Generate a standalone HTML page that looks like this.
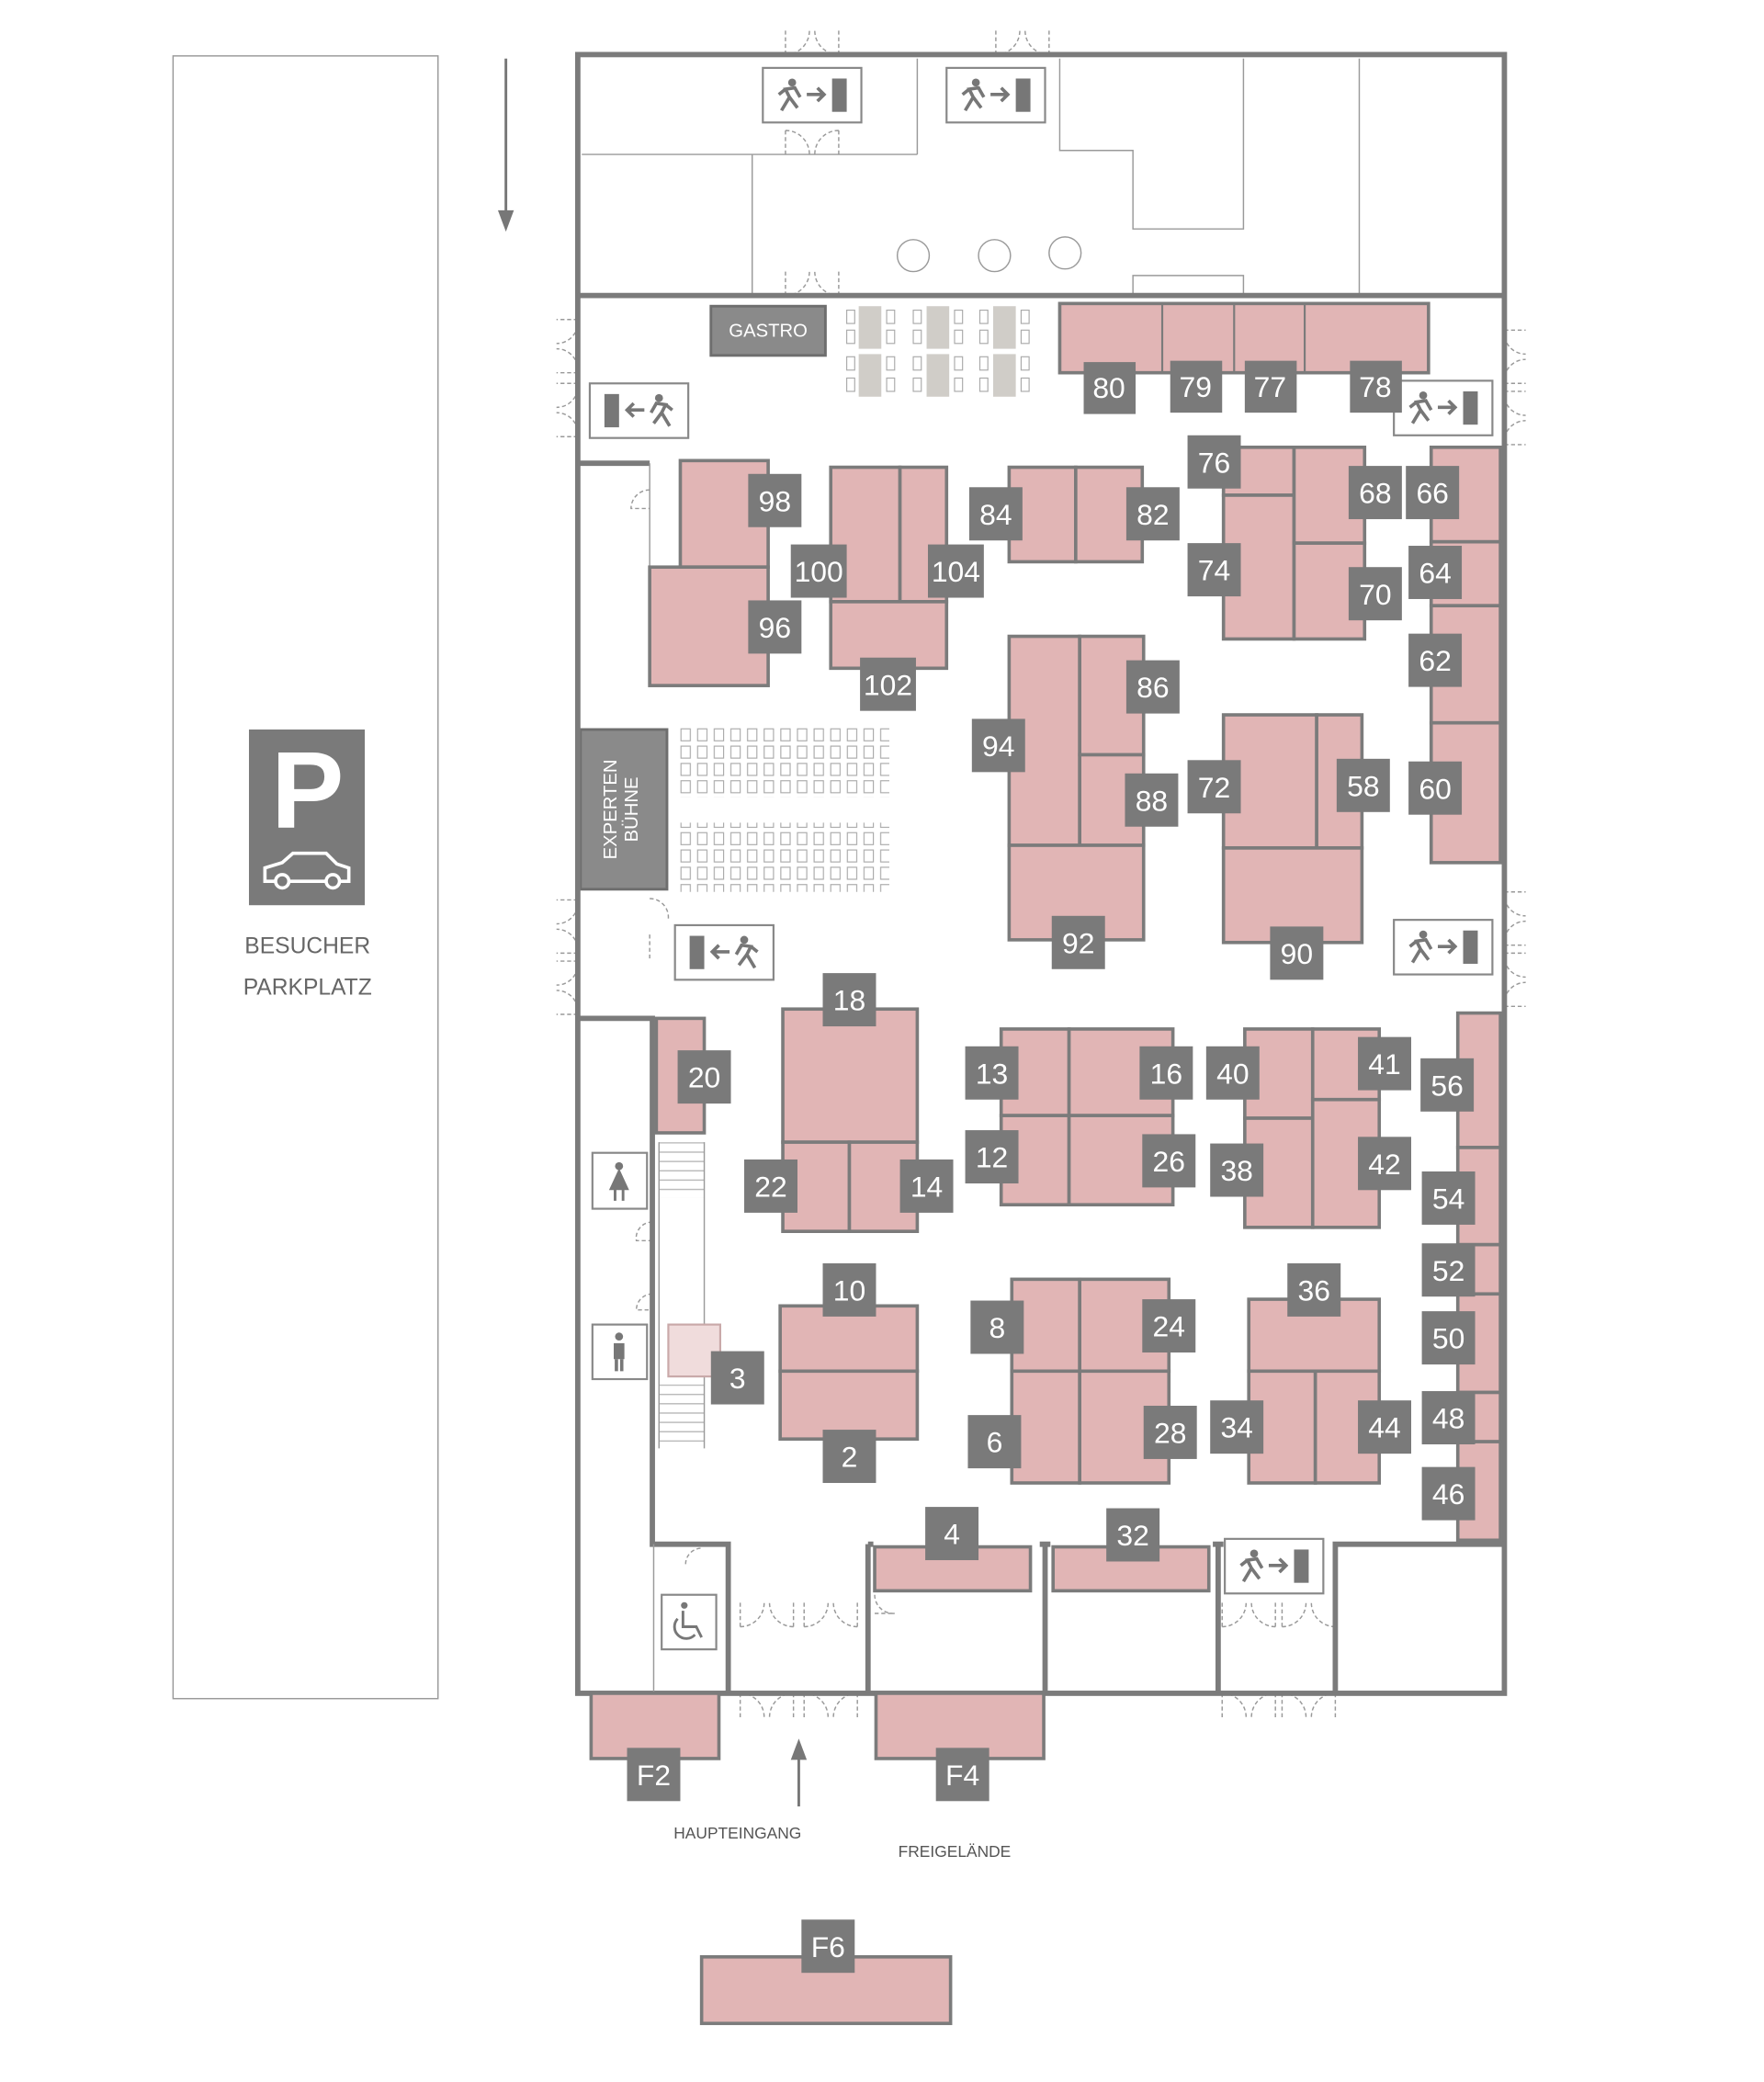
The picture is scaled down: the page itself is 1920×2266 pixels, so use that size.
<!DOCTYPE html>
<html><head><meta charset="utf-8"><style>
html,body{margin:0;padding:0;background:#fff;}
svg{display:block}
.b{fill:#e1b5b5;stroke:#7b7b7b;stroke-width:2.5}
.l{fill:#7a7a7a}
.t{fill:#fff;font-family:"Liberation Sans",sans-serif;font-size:22px;text-anchor:middle}
.w{stroke:#7b7b7b;stroke-width:4;fill:none}
.th{stroke:#9a9a9a;stroke-width:1;fill:none}
.ex{fill:#fff;stroke:#888;stroke-width:1.5}
.d{stroke:#999;stroke-width:1;fill:none;stroke-dasharray:3 2}
</style></head><body>
<svg width="1920" height="2266" viewBox="0 0 1325 1564" preserveAspectRatio="none" xmlns="http://www.w3.org/2000/svg">
<defs>
<pattern id="seat" x="511" y="547" width="12.5" height="13" patternUnits="userSpaceOnUse">
<rect x="0.5" y="0.5" width="7" height="9" fill="none" stroke="#aaa" stroke-width="0.8"/></pattern>
<pattern id="stair" x="0" y="858" width="10" height="7" patternUnits="userSpaceOnUse">
<line x1="0" y1="0.5" x2="10" y2="0.5" stroke="#bbb" stroke-width="1"/></pattern>
<g id="exR"><rect class="ex" x="0" y="0" width="74" height="41"/>
<circle cx="22" cy="11" r="3" fill="#777"/><path d="M14 32 L20 22 L17 16 L24 15 L28 22 M20 22 L26 30 M12 20 L17 16" stroke="#777" stroke-width="2.5" fill="none"/>
<path d="M33 20 H46 M41 15 L46 20 L41 25" stroke="#777" stroke-width="2.5" fill="none"/>
<rect x="52" y="8" width="11" height="25" fill="#777"/></g>
<path id="dh" class="d" d="M0 0 V18 M0 0 A18 18 0 0 1 18 18 M40 0 V18 M40 0 A18 18 0 0 0 22 18"/>
<path id="dv" class="d" d="M0 0 H16 M0 0 A16 16 0 0 0 16 18 M0 40 H16 M0 40 A16 16 0 0 1 16 22"/>
</defs>

<!-- parking -->
<rect x="130" y="42" width="199" height="1234" fill="none" stroke="#999" stroke-width="1"/>
<rect x="187" y="548" width="87" height="132" fill="#7a7a7a"/>
<text x="231" y="622" style="font-family:'Liberation Sans',sans-serif;font-size:82px;fill:#fff;text-anchor:middle;font-weight:bold">P</text>
<path d="M199 662 L199 652 L212 648 L220 641 L245 641 L253 649 L262 652 L262 662 Z" fill="none" stroke="#fff" stroke-width="2.5"/>
<circle cx="212" cy="662" r="5" fill="#7a7a7a" stroke="#fff" stroke-width="2.5"/><circle cx="250" cy="662" r="5" fill="#7a7a7a" stroke="#fff" stroke-width="2.5"/>
<text x="231" y="716" style="font-family:'Liberation Sans',sans-serif;font-size:17px;fill:#666;text-anchor:middle">BESUCHER</text>
<text x="231" y="747" style="font-family:'Liberation Sans',sans-serif;font-size:17px;fill:#666;text-anchor:middle">PARKPLATZ</text>
<path d="M380 44 V165" stroke="#777" stroke-width="2"/><path d="M374 158 L380 174 L386 158 Z" fill="#777"/>

<!-- top area thin lines -->
<path class="th" d="M689 44 V116 M437 116 H689 M565 116 V222 M796 44 V113 H851 V172 H934 V44 M1021 44 V222 M851 222 V207 H934 V222"/>
<use href="#exR" x="573" y="51"/><use href="#exR" x="711" y="51"/>
<circle cx="686" cy="192" r="12" class="th" stroke="#888"/><circle cx="747" cy="192" r="12" class="th" stroke="#888"/><circle cx="800" cy="190" r="12" class="th" stroke="#888"/>

<!-- doors -->
<use href="#dh" transform="translate(590,41) scale(1,-1)"/>
<use href="#dh" transform="translate(748,41) scale(1,-1)"/>
<use href="#dh" x="590" y="98"/>
<use href="#dh" transform="translate(590,222) scale(1,-1)"/>
<use href="#dv" transform="translate(434,240) scale(-1,1)"/>
<use href="#dv" transform="translate(434,288) scale(-1,1)"/>
<use href="#dv" transform="translate(434,676) scale(-1,1)"/>
<use href="#dv" transform="translate(434,722) scale(-1,1)"/>
<use href="#dv" x="1130" y="248"/>
<use href="#dv" x="1130" y="294"/>
<use href="#dv" x="1130" y="670"/>
<use href="#dv" x="1130" y="716"/>
<use href="#dh" x="556" y="1272"/><use href="#dh" x="604" y="1272"/>
<use href="#dh" transform="translate(556,1222) scale(1,-1)"/><use href="#dh" transform="translate(604,1222) scale(1,-1)"/>
<use href="#dh" x="918" y="1272"/><use href="#dh" x="963" y="1272"/>
<use href="#dh" transform="translate(918,1222) scale(1,-1)"/><use href="#dh" transform="translate(963,1222) scale(1,-1)"/>
<path class="d" d="M488 368 A14 14 0 0 0 474 382 H488 M488 675 A14 14 0 0 1 502 690 M488 720 V700 M490 918 A12 12 0 0 0 478 932 H490 M490 972 A12 12 0 0 0 478 984 H490 M515 1175 A12 12 0 0 1 527 1163 M657 1198 A14 14 0 0 0 672 1212 H657"/>

<!-- gastro -->
<rect x="534" y="230" width="86" height="37" fill="#8a8a8a" stroke="#6e6e6e" stroke-width="2"/>
<text x="577" y="253" style="font-family:'Liberation Sans',sans-serif;font-size:14px;fill:#fff;text-anchor:middle">GASTRO</text>
<g fill="#d0cdc8">
<rect x="645" y="230" width="17" height="32"/><rect x="645" y="266" width="17" height="32"/>
<rect x="696" y="230" width="17" height="32"/><rect x="696" y="266" width="17" height="32"/>
<rect x="746" y="230" width="17" height="32"/><rect x="746" y="266" width="17" height="32"/></g>
<g fill="none" stroke="#aaa" stroke-width="0.8">
<rect x="636" y="233" width="6" height="10"/><rect x="636" y="248" width="6" height="10"/><rect x="636" y="268" width="6" height="10"/><rect x="636" y="284" width="6" height="10"/>
<rect x="666" y="233" width="6" height="10"/><rect x="666" y="248" width="6" height="10"/><rect x="666" y="268" width="6" height="10"/><rect x="666" y="284" width="6" height="10"/>
<rect x="686" y="233" width="6" height="10"/><rect x="686" y="248" width="6" height="10"/><rect x="686" y="268" width="6" height="10"/><rect x="686" y="284" width="6" height="10"/>
<rect x="717" y="233" width="6" height="10"/><rect x="717" y="248" width="6" height="10"/><rect x="717" y="268" width="6" height="10"/><rect x="717" y="284" width="6" height="10"/>
<rect x="736" y="233" width="6" height="10"/><rect x="736" y="248" width="6" height="10"/><rect x="736" y="268" width="6" height="10"/><rect x="736" y="284" width="6" height="10"/>
<rect x="767" y="233" width="6" height="10"/><rect x="767" y="248" width="6" height="10"/><rect x="767" y="268" width="6" height="10"/><rect x="767" y="284" width="6" height="10"/>
</g>

<!-- seating -->
<rect x="511" y="547" width="157" height="52" fill="url(#seat)"/>
<rect x="511" y="618" width="157" height="52" fill="url(#seat)"/>
<rect x="495" y="858" width="34" height="42" fill="url(#stair)"/>
<rect x="495" y="1040" width="34" height="48" fill="url(#stair)"/>
<path class="th" d="M495 858 V1088 M529 858 V1088"/>

<!-- experten -->
<rect x="436" y="548" width="65" height="120" fill="#8a8a8a" stroke="#6e6e6e" stroke-width="2"/>
<text transform="translate(463,608) rotate(-90)" style="font-family:'Liberation Sans',sans-serif;font-size:14px;fill:#fff;text-anchor:middle">EXPERTEN</text>
<text transform="translate(479,608) rotate(-90)" style="font-family:'Liberation Sans',sans-serif;font-size:14px;fill:#fff;text-anchor:middle">BÜHNE</text>

<!-- walls -->
<rect class="w" x="434" y="41" width="696" height="1231"/>
<path class="w" d="M434 222 H1130 M434 348 H488 M434 765 H490 V1160 H547 V1272 M652 1160 V1272 M785 1160 V1272 M915 1160 V1272 M1003 1272 V1160 H1130 M652 1160 H656 M781 1160 H789 M911 1160 H919"/>
<path class="th" d="M488 348 V515 M491 1160 V1272"/>

<!-- exit signs -->
<use href="#exR" transform="translate(517,288) scale(-1,1)"/>
<use href="#exR" x="1047" y="286"/>
<use href="#exR" transform="translate(581,695) scale(-1,1)"/>
<use href="#exR" x="1047" y="691"/>
<use href="#exR" x="920" y="1156"/>

<!-- WC icons -->
<rect class="ex" x="445" y="866" width="41" height="42"/>
<circle cx="465" cy="876" r="3" fill="#777"/><path d="M465 880 L459 893 H471 Z M462 893 V902 M468 893 V902" stroke="#777" stroke-width="2" fill="#777"/>
<rect class="ex" x="445" y="995" width="41" height="41"/>
<circle cx="465" cy="1004" r="3" fill="#777"/><rect x="461" y="1009" width="8" height="12" fill="#777"/><path d="M463 1021 V1030 M467 1021 V1030" stroke="#777" stroke-width="2.5"/>
<rect class="ex" x="497" y="1198" width="41" height="41"/>
<circle cx="514" cy="1206" r="2.5" fill="#777"/><path d="M513 1210 V1222 H523 L527 1230 M509 1216 A8 8 0 1 0 522 1228" stroke="#777" stroke-width="2" fill="none"/>

<!-- booths -->
<rect class="b" x="796" y="228" width="277" height="52"/><path stroke="#7b7b7b" stroke-width="1.5" d="M873 228V280 M927 228V280 M980 228V280"/>
<rect class="b" x="511" y="346" width="66" height="80"/><rect class="b" x="488" y="426" width="89" height="89"/>
<rect class="b" x="624" y="351" width="52" height="101"/><rect class="b" x="676" y="351" width="35" height="101"/><rect class="b" x="624" y="452" width="87" height="50"/>
<rect class="b" x="758" y="351" width="50" height="71"/><rect class="b" x="808" y="351" width="50" height="71"/>
<rect class="b" x="919" y="336" width="53" height="36"/><rect class="b" x="919" y="372" width="53" height="108"/><rect class="b" x="972" y="336" width="53" height="72"/><rect class="b" x="972" y="408" width="53" height="72"/>
<rect class="b" x="1075" y="336" width="52" height="71"/><rect class="b" x="1075" y="407" width="52" height="48"/><rect class="b" x="1075" y="455" width="52" height="88"/><rect class="b" x="1075" y="543" width="52" height="105"/>
<rect class="b" x="758" y="478" width="53" height="157"/><rect class="b" x="811" y="478" width="48" height="89"/><rect class="b" x="811" y="567" width="48" height="68"/><rect class="b" x="758" y="635" width="101" height="71"/>
<rect class="b" x="919" y="537" width="70" height="100"/><rect class="b" x="989" y="537" width="34" height="100"/><rect class="b" x="919" y="637" width="104" height="71"/>
<rect class="b" x="493" y="765" width="36" height="86"/>
<rect class="b" x="588" y="758" width="101" height="100"/><rect class="b" x="588" y="858" width="50" height="67"/><rect class="b" x="638" y="858" width="51" height="67"/>
<rect class="b" x="752" y="773" width="51" height="65"/><rect class="b" x="803" y="773" width="78" height="65"/><rect class="b" x="752" y="838" width="51" height="67"/><rect class="b" x="803" y="838" width="78" height="67"/>
<rect class="b" x="935" y="773" width="51" height="67"/><rect class="b" x="935" y="840" width="51" height="82"/><rect class="b" x="986" y="773" width="50" height="53"/><rect class="b" x="986" y="826" width="50" height="96"/>
<rect class="b" x="1095" y="761" width="32" height="101"/><rect class="b" x="1095" y="862" width="32" height="73"/><rect class="b" x="1095" y="935" width="32" height="37"/><rect class="b" x="1095" y="972" width="32" height="74"/><rect class="b" x="1095" y="1046" width="32" height="37"/><rect class="b" x="1095" y="1083" width="32" height="74"/>
<rect class="b" x="586" y="981" width="103" height="49"/><rect class="b" x="586" y="1030" width="103" height="51"/>
<rect class="b" x="760" y="961" width="51" height="69"/><rect class="b" x="811" y="961" width="67" height="69"/><rect class="b" x="760" y="1030" width="51" height="84"/><rect class="b" x="811" y="1030" width="67" height="84"/>
<rect class="b" x="938" y="976" width="98" height="54"/><rect class="b" x="938" y="1030" width="50" height="84"/><rect class="b" x="988" y="1030" width="48" height="84"/>
<rect x="502" y="995" width="39" height="39" fill="#f0dcdc" stroke="#c9a9a9" stroke-width="1.5"/>
<rect class="b" x="657" y="1162" width="117" height="33"/><rect class="b" x="791" y="1162" width="117" height="33"/>
<rect class="b" x="444" y="1272" width="96" height="49"/><rect class="b" x="658" y="1272" width="126" height="49"/><rect class="b" x="527" y="1470" width="187" height="50"/>

<!-- labels -->
<g>
<rect class="l" x="814" y="272" width="39" height="39"/><text class="t" x="833" y="299">80</text>
<rect class="l" x="879" y="271" width="39" height="39"/><text class="t" x="898" y="298">79</text>
<rect class="l" x="935" y="271" width="39" height="39"/><text class="t" x="954" y="298">77</text>
<rect class="l" x="1014" y="271" width="39" height="39"/><text class="t" x="1033" y="298">78</text>
<rect class="l" x="562" y="356" width="40" height="40"/><text class="t" x="582" y="384">98</text>
<rect class="l" x="562" y="451" width="40" height="40"/><text class="t" x="582" y="479">96</text>
<rect class="l" x="594" y="409" width="42" height="40"/><text class="t" x="615" y="437">100</text>
<rect class="l" x="697" y="409" width="42" height="40"/><text class="t" x="718" y="437">104</text>
<rect class="l" x="646" y="494" width="42" height="40"/><text class="t" x="667" y="522">102</text>
<rect class="l" x="728" y="366" width="40" height="40"/><text class="t" x="748" y="394">84</text>
<rect class="l" x="846" y="366" width="40" height="40"/><text class="t" x="866" y="394">82</text>
<rect class="l" x="892" y="327" width="40" height="40"/><text class="t" x="912" y="355">76</text>
<rect class="l" x="892" y="408" width="40" height="40"/><text class="t" x="912" y="436">74</text>
<rect class="l" x="1013" y="350" width="40" height="40"/><text class="t" x="1033" y="378">68</text>
<rect class="l" x="1013" y="426" width="40" height="40"/><text class="t" x="1033" y="454">70</text>
<rect class="l" x="1056" y="350" width="40" height="40"/><text class="t" x="1076" y="378">66</text>
<rect class="l" x="1058" y="410" width="40" height="40"/><text class="t" x="1078" y="438">64</text>
<rect class="l" x="1058" y="476" width="40" height="40"/><text class="t" x="1078" y="504">62</text>
<rect class="l" x="1058" y="572" width="40" height="40"/><text class="t" x="1078" y="600">60</text>
<rect class="l" x="730" y="540" width="40" height="40"/><text class="t" x="750" y="568">94</text>
<rect class="l" x="846" y="496" width="40" height="40"/><text class="t" x="866" y="524">86</text>
<rect class="l" x="845" y="581" width="40" height="40"/><text class="t" x="865" y="609">88</text>
<rect class="l" x="790" y="688" width="40" height="40"/><text class="t" x="810" y="716">92</text>
<rect class="l" x="892" y="571" width="40" height="40"/><text class="t" x="912" y="599">72</text>
<rect class="l" x="1004" y="570" width="40" height="40"/><text class="t" x="1024" y="598">58</text>
<rect class="l" x="954" y="696" width="40" height="40"/><text class="t" x="974" y="724">90</text>
<rect class="l" x="509" y="789" width="40" height="40"/><text class="t" x="529" y="817">20</text>
<rect class="l" x="618" y="731" width="40" height="40"/><text class="t" x="638" y="759">18</text>
<rect class="l" x="559" y="871" width="40" height="40"/><text class="t" x="579" y="899">22</text>
<rect class="l" x="676" y="871" width="40" height="40"/><text class="t" x="696" y="899">14</text>
<rect class="l" x="725" y="786" width="40" height="40"/><text class="t" x="745" y="814">13</text>
<rect class="l" x="856" y="786" width="40" height="40"/><text class="t" x="876" y="814">16</text>
<rect class="l" x="725" y="849" width="40" height="40"/><text class="t" x="745" y="877">12</text>
<rect class="l" x="858" y="852" width="40" height="40"/><text class="t" x="878" y="880">26</text>
<rect class="l" x="906" y="786" width="40" height="40"/><text class="t" x="926" y="814">40</text>
<rect class="l" x="1020" y="779" width="40" height="40"/><text class="t" x="1040" y="807">41</text>
<rect class="l" x="909" y="859" width="40" height="40"/><text class="t" x="929" y="887">38</text>
<rect class="l" x="1020" y="854" width="40" height="40"/><text class="t" x="1040" y="882">42</text>
<rect class="l" x="1067" y="795" width="40" height="40"/><text class="t" x="1087" y="823">56</text>
<rect class="l" x="1068" y="880" width="40" height="40"/><text class="t" x="1088" y="908">54</text>
<rect class="l" x="1068" y="934" width="40" height="40"/><text class="t" x="1088" y="962">52</text>
<rect class="l" x="1068" y="985" width="40" height="40"/><text class="t" x="1088" y="1013">50</text>
<rect class="l" x="1068" y="1045" width="40" height="40"/><text class="t" x="1088" y="1073">48</text>
<rect class="l" x="1068" y="1102" width="40" height="40"/><text class="t" x="1088" y="1130">46</text>
<rect class="l" x="618" y="949" width="40" height="40"/><text class="t" x="638" y="977">10</text>
<rect class="l" x="618" y="1074" width="40" height="40"/><text class="t" x="638" y="1102">2</text>
<rect class="l" x="729" y="977" width="40" height="40"/><text class="t" x="749" y="1005">8</text>
<rect class="l" x="858" y="976" width="40" height="40"/><text class="t" x="878" y="1004">24</text>
<rect class="l" x="727" y="1063" width="40" height="40"/><text class="t" x="747" y="1091">6</text>
<rect class="l" x="859" y="1056" width="40" height="40"/><text class="t" x="879" y="1084">28</text>
<rect class="l" x="967" y="949" width="40" height="40"/><text class="t" x="987" y="977">36</text>
<rect class="l" x="909" y="1052" width="40" height="40"/><text class="t" x="929" y="1080">34</text>
<rect class="l" x="1020" y="1052" width="40" height="40"/><text class="t" x="1040" y="1080">44</text>
<rect class="l" x="534" y="1015" width="40" height="40"/><text class="t" x="554" y="1043">3</text>
<rect class="l" x="695" y="1132" width="40" height="40"/><text class="t" x="715" y="1160">4</text>
<rect class="l" x="831" y="1133" width="40" height="40"/><text class="t" x="851" y="1161">32</text>
<rect class="l" x="471" y="1313" width="40" height="40"/><text class="t" x="491" y="1341">F2</text>
<rect class="l" x="703" y="1313" width="40" height="40"/><text class="t" x="723" y="1341">F4</text>
<rect class="l" x="602" y="1442" width="40" height="40"/><text class="t" x="622" y="1470">F6</text>
</g>

<path d="M600 1357 V1315" stroke="#777" stroke-width="2"/><path d="M594 1322 L600 1306 L606 1322 Z" fill="#777"/>
<text x="554" y="1381" style="font-family:'Liberation Sans',sans-serif;font-size:12px;fill:#555;text-anchor:middle">HAUPTEINGANG</text>
<text x="717" y="1395" style="font-family:'Liberation Sans',sans-serif;font-size:12px;fill:#555;text-anchor:middle">FREIGELÄNDE</text>
</svg>
</body></html>
